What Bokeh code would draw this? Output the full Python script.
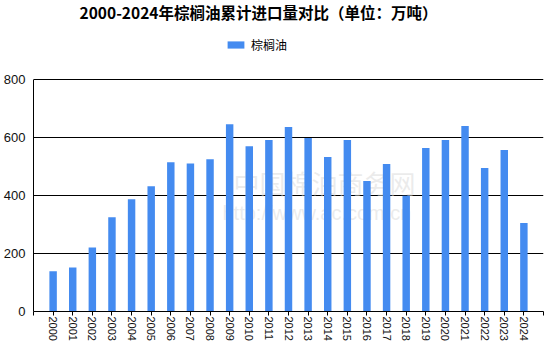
from bokeh.plotting import figure
from bokeh.models import (Range1d, FixedTicker, Legend, LegendItem, Label,
                          ColumnDataSource)
from bokeh.embed import file_html
from bokeh.resources import INLINE

years = list(range(2000, 2025))
values = [139, 152, 221, 325, 387, 432, 515, 510, 525, 646,
          570, 591, 636, 598, 533, 591, 450, 509, 399, 564,
          591, 640, 495, 557, 305]
y_ticks = [0, 200, 400, 600, 800]
series_name = "棕榈油"
title_text = "2000-2024年棕榈油累计进口量对比（单位：万吨）"

src = ColumnDataSource(dict(year=years, value=values))

# frame spans the full height above the x axis; value axis is bounded to 0..800
p = figure(width=548, height=349, output_backend="svg", toolbar_location=None,
           x_range=Range1d(1999, 2025), y_range=Range1d(0, 800 * 311 / 232),
           min_border_left=33, min_border_right=5, min_border_top=0,
           min_border_bottom=38)
p.outline_line_color = None
p.background_fill_color = "white"

# watermark (behind bars)
wm1 = Label(x=200, y=129, x_units="screen", y_units="screen",
            text="中国棉油商务网", text_font="Noto Sans CJK SC",
            text_font_size="26px", text_color="#d8d8d8", text_alpha=0.5,
            text_baseline="middle", level="underlay")
wm2 = Label(x=189, y=99, x_units="screen", y_units="screen",
            text="http://www.ac.com.cn", text_font="Liberation Sans",
            text_font_size="20px", text_color="#d8d8d8", text_alpha=0.5,
            text_baseline="middle", level="underlay")
p.add_layout(wm1)
p.add_layout(wm2)

r = p.vbar(x="year", top="value", width=0.38, source=src,
           fill_color="#448BF0", line_color=None)

# axes
p.xaxis.ticker = FixedTicker(ticks=list(range(1999, 2026)))
p.xaxis.major_label_overrides = {1999: "", 2025: ""}
p.xaxis.major_label_orientation = "vertical"
p.xaxis.major_label_text_font = "Liberation Sans"
p.xaxis.major_label_text_font_size = "11px"
p.xaxis.major_label_text_color = "#111111"
p.xaxis.major_tick_out = 4
p.xaxis.major_tick_in = 0
p.xaxis.minor_tick_line_color = None
p.xaxis.major_label_standoff = 1
p.xaxis.axis_line_color = "black"
p.xaxis.major_tick_line_color = "black"

p.yaxis.ticker = FixedTicker(ticks=y_ticks)
p.yaxis.bounds = (0, 800)
p.yaxis.major_label_text_font = "Liberation Sans"
p.yaxis.major_label_text_font_size = "13px"
p.yaxis.major_label_text_color = "#111111"
p.yaxis.major_tick_out = 0
p.yaxis.major_tick_in = 0
p.yaxis.minor_tick_line_color = None
p.yaxis.major_label_standoff = 8
p.yaxis.axis_line_color = "black"

p.xgrid.grid_line_color = None
p.ygrid.grid_line_color = "black"
p.ygrid.grid_line_width = 1.2

# title
title = Label(x=225, y=300, x_units="screen", y_units="screen",
              text=title_text, text_font="Noto Sans CJK SC",
              text_font_size="15.5px", text_font_style="bold",
              text_color="black", text_align="center", text_baseline="middle")
p.add_layout(title)

legend = Legend(items=[LegendItem(label=series_name, renderers=[r])],
                location=(192, 258), orientation="horizontal",
                glyph_width=21, glyph_height=9, label_height=9,
                label_standoff=5, padding=0, margin=0, spacing=0,
                label_text_font="Noto Sans CJK SC", label_text_font_size="12px",
                label_text_color="black", border_line_color=None,
                background_fill_alpha=0)
p.add_layout(legend)

open("out.html", "w").write(file_html(p, INLINE))
